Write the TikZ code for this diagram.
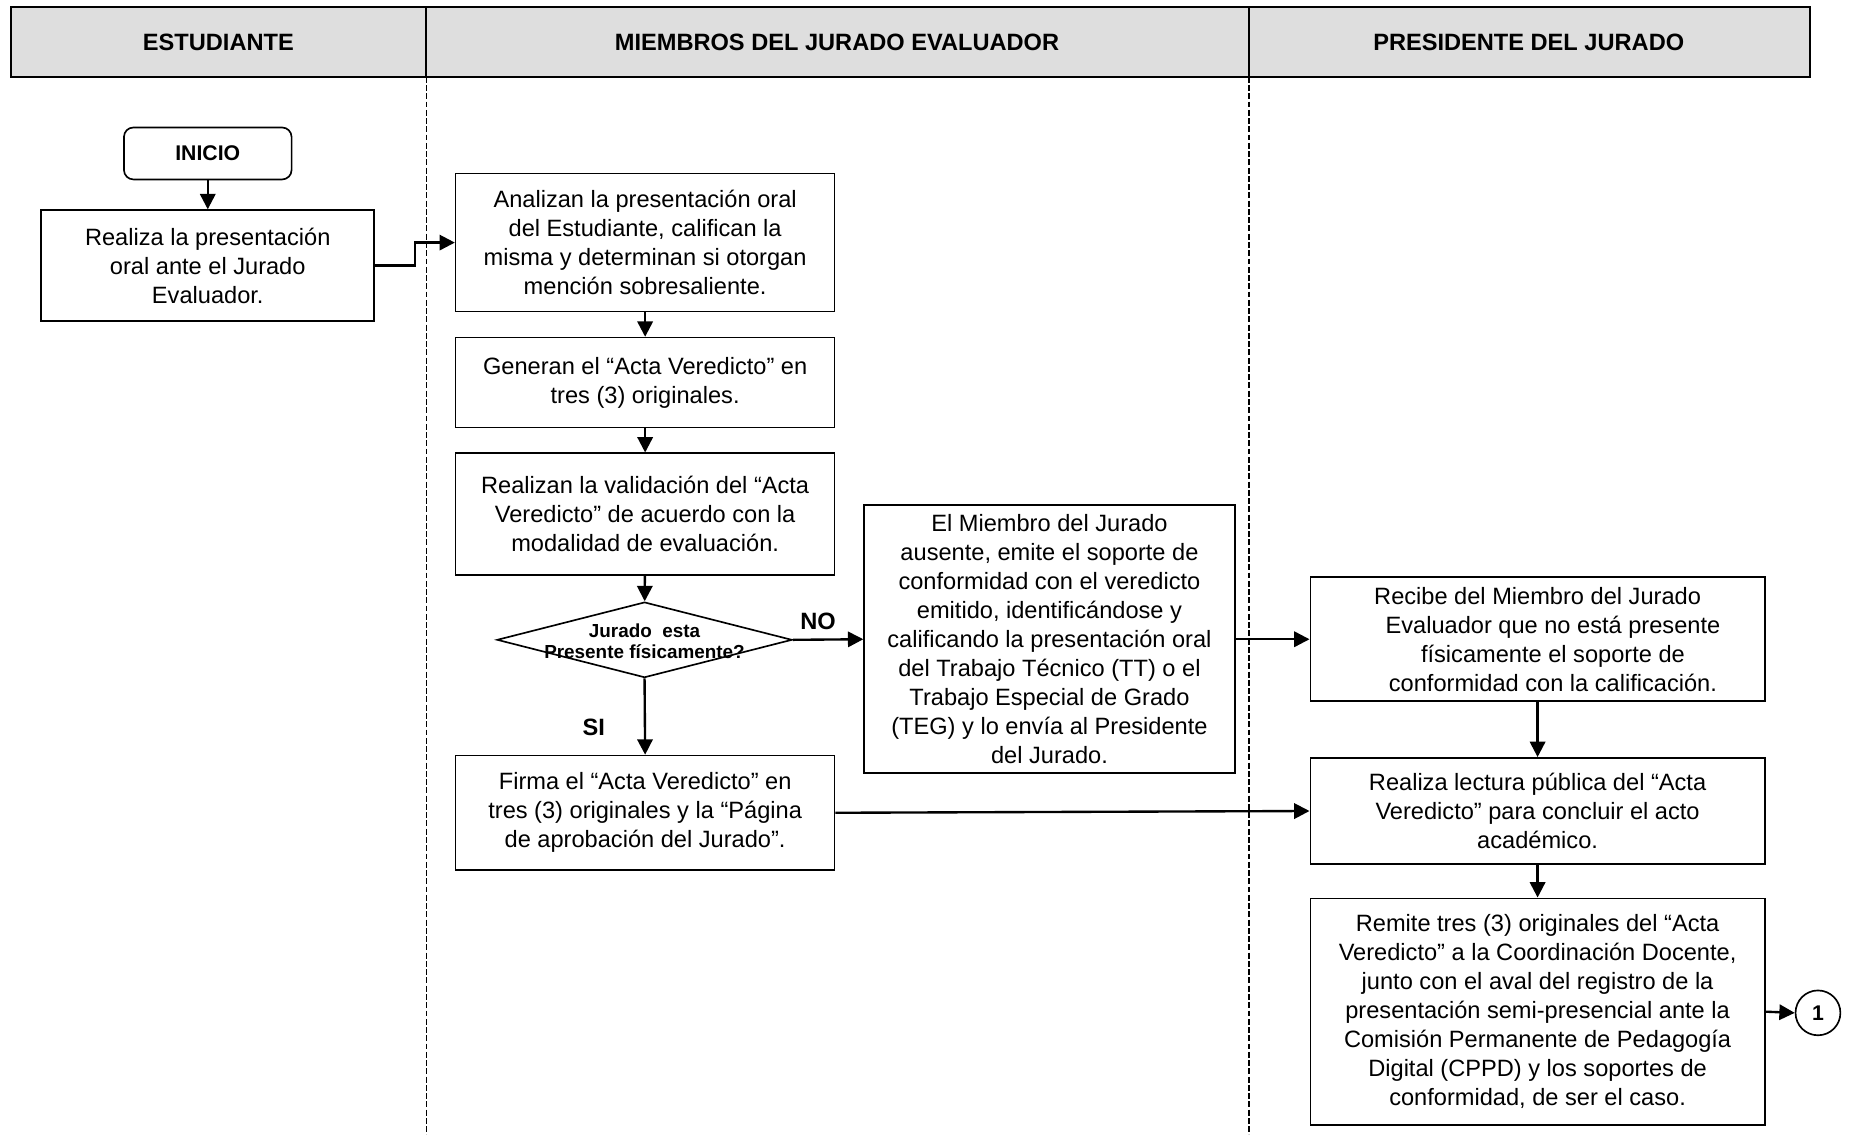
\documentclass[tikz,border=0pt]{standalone}
\usepackage{fontspec}
\setmainfont{Liberation Sans}
\usetikzlibrary{arrows.meta,shapes.geometric}
\begin{document}
\begin{tikzpicture}[x=1pt,y=-1pt,
  proc/.style={draw,line width=1.4pt,align=center,inner sep=0pt,
    font=\fontsize{20}{24.5}\selectfont},
  hdr/.style={font=\fontsize{20}{24}\selectfont\bfseries},
  lbl/.style={font=\fontsize{20}{24}\selectfont\bfseries},
  arr/.style={line width=2pt,-{Triangle[length=13pt,width=13pt]}},
  lane/.style={line width=1pt,dash pattern=on 5pt off 2pt}]
\useasboundingbox (0,0) rectangle (1568,961);
% header
\node[draw,line width=1.6pt,fill=black!13,minimum width=1524pt,minimum height=59pt,inner sep=0pt] (head) at (771,35.5) {};
\draw[line width=1.2pt] (361,6) -- (361,65);
\draw[line width=1.2pt] (1058,6) -- (1058,65);
\node[hdr] (h1) at (185,36) {ESTUDIANTE};
\node[hdr] (h2) at (709,36) {MIEMBROS DEL JURADO EVALUADOR};
\node[hdr] (h3) at (1295,36) {PRESIDENTE DEL JURADO};
\coordinate (l1t) at (361,65); \coordinate (l1b) at (361,961);
\coordinate (l2t) at (1058,65); \coordinate (l2b) at (1058,961);
\draw[lane] (l1t) -- (l1b);
\draw[lane] (l2t) -- (l2b);
% nodes
\node[draw,line width=1.4pt,rounded corners=8pt,minimum width=142pt,minimum height=44pt,inner sep=0pt,
  font=\fontsize{18}{22}\selectfont\bfseries] (ini) at (176,130) {INICIO};
\node[proc,minimum width=282pt,minimum height=94pt] (b1) at (176,225)
  {Realiza la presentación\\oral ante el Jurado\\Evaluador.};
\node[proc,minimum width=321pt,minimum height=117pt] (b2) at (546.5,205.5)
  {Analizan la presentación oral\\del Estudiante, califican la\\misma y determinan si otorgan\\mención sobresaliente.};
\node[proc,minimum width=321pt,minimum height=76pt] (b3) at (546.5,324)
  {Generan el “Acta Veredicto” en\\tres (3) originales.};
\node[proc,minimum width=321pt,minimum height=103pt] (b4) at (546.5,435.5)
  {Realizan la validación del “Acta\\Veredicto” de acuerdo con la\\modalidad de evaluación.};
\node[draw,diamond,line width=1.4pt,minimum width=250pt,minimum height=64pt,inner sep=0pt] (dia) at (546,542) {};
\node[align=center,inner sep=0pt,font=\fontsize{16}{18}\selectfont\bfseries] (diat) at (546,543)
  {Jurado\ \ esta\\Presente físicamente?};
\node[proc,minimum width=314pt,minimum height=227pt] (b5) at (889,541.5)
  {El Miembro del Jurado\\ausente, emite el soporte de\\conformidad con el veredicto\\emitido, identificándose y\\calificando la presentación oral\\del Trabajo Técnico (TT) o el\\Trabajo Especial de Grado\\(TEG) y lo envía al Presidente\\del Jurado.};
\node[proc,minimum width=385pt,minimum height=105pt] (b6) at (1302.5,541.5)
  {Recibe del Miembro del Jurado\\\hspace*{26pt}Evaluador que no está presente\\\hspace*{26pt}físicamente el soporte de\\\hspace*{26pt}conformidad con la calificación.};
\node[proc,minimum width=321pt,minimum height=97pt] (b7) at (546.5,688.5)
  {Firma el “Acta Veredicto” en\\tres (3) originales y la “Página\\de aprobación del Jurado”.};
\node[proc,minimum width=385pt,minimum height=90pt] (b8) at (1302.5,687)
  {Realiza lectura pública del “Acta\\Veredicto” para concluir el acto\\académico.};
\node[proc,minimum width=385pt,minimum height=192pt] (b9) at (1302.5,857)
  {Remite tres (3) originales del “Acta\\Veredicto” a la Coordinación Docente,\\junto con el aval del registro de la\\presentación semi-presencial ante la\\Comisión Permanente de Pedagogía\\Digital (CPPD) y los soportes de\\conformidad, de ser el caso.};
\node[draw,circle,line width=1.4pt,minimum size=38pt,inner sep=0pt,font=\fontsize{18}{22}\selectfont\bfseries] (c1) at (1540,858) {1};
% labels
\node[lbl] (no) at (693,526) {NO};
\node[lbl] (si) at (503,616) {SI};
% connectors
\draw[arr] (ini) -- (b1);
\draw[arr] (b1.east) -- ++(34,0) |- (b2.west);
\draw[arr] (b2) -- (b3);
\draw[arr] (b3) -- (b4);
\draw[arr] (b4) -- (dia);
\draw[arr] (dia.east) -- (b5.west);
\draw[arr] (dia.south) -- (b7.north);
\draw[arr] (b5.east) -- (b6.west);
\draw[arr] (b6) -- (b8);
\draw[arr] (b7.east) -- (b8.west);
\draw[arr] (b8) -- (b9);
\draw[arr] (b9.east) -- (c1.west);
\end{tikzpicture}
\end{document}
